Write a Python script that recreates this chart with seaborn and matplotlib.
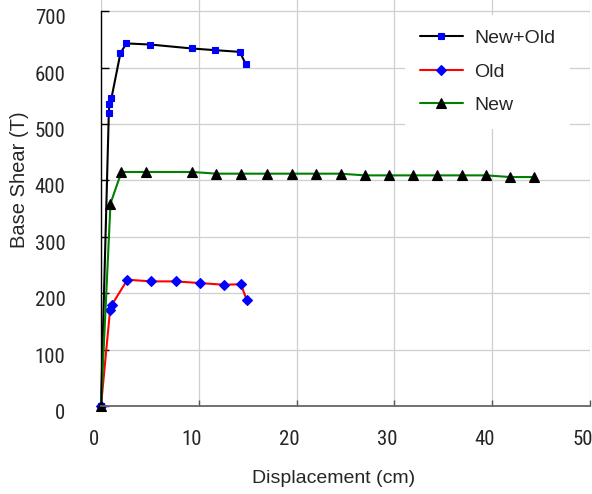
import matplotlib
matplotlib.use("Agg")
import matplotlib.pyplot as plt
import matplotlib.transforms as mtransforms
from matplotlib import font_manager
from matplotlib.font_manager import FontProperties
import seaborn as sns

# ---- data ----
newold_x = [0, 0.80, 0.85, 1.07, 1.99, 2.60, 5.06, 9.31, 11.7, 14.2, 14.8]
newold_y = [0, 520, 535, 546, 626, 643, 641, 634, 631, 628, 606]

old_x = [0, 0.93, 1.13, 2.70, 5.12, 7.65, 10.13, 12.6, 14.3, 14.9]
old_y = [0, 171, 180, 224, 221, 221, 218, 215, 216, 188]

new_x = [0, 0.97, 2.09, 4.58, 9.35, 11.8, 14.3, 17.0, 19.5, 22.0, 24.5,
         26.95, 29.4, 31.95, 34.4, 36.9, 39.4, 41.85, 44.3]
new_y = [0, 359, 415, 415, 415, 412, 412, 412, 412, 412, 412,
         409, 409, 409, 409, 409, 409, 406, 406]

x_ticks = [0, 10, 20, 30, 40, 50]
y_ticks = [0, 100, 200, 300, 400, 500, 600, 700]
x_label = "Displacement (cm)"
y_label = "Base Shear (T)"

sns.set_theme(style="white")


def pick(name, fallback):
    try:
        font_manager.findfont(name, fallback_to_default=False)
        return name
    except Exception:
        return fallback


main_font = pick("Liberation Sans", "DejaVu Sans")

# find a condensed face for the tick labels
narrow_props = None
for fam in ["Liberation Sans Narrow", "Arial Narrow", "Roboto Condensed",
            "Open Sans Condensed", "Nimbus Sans Narrow", "DejaVu Sans Condensed"]:
    try:
        font_manager.findfont(fam, fallback_to_default=False)
        narrow_props = FontProperties(family=fam)
        break
    except Exception:
        pass
if narrow_props is None:
    for fam in ["Liberation Sans", "Roboto", "Open Sans", "Noto Sans", "DejaVu Sans"]:
        fp = FontProperties(family=fam, stretch="condensed")
        try:
            path = font_manager.findfont(fp, fallback_to_default=False)
            if "ondensed" in path or "arrow" in path:
                narrow_props = fp
                break
        except Exception:
            pass
narrow_ok = narrow_props is not None
if narrow_props is None:
    narrow_props = FontProperties(family=main_font)
tick_size = 15 if narrow_ok else 12.5

plt.rcParams["font.family"] = [main_font, "DejaVu Sans"]

fig = plt.figure(figsize=(5.92, 4.94), dpi=100)
ax = fig.add_axes([101 / 592, 88 / 494, 489 / 592, 406 / 494])

common = dict(ax=ax, estimator=None, sort=False, linewidth=1.5,
              markeredgewidth=0.8, clip_on=False)
sns.lineplot(x=old_x, y=old_y, color="red", marker="D", markersize=5.2,
             markerfacecolor="blue", markeredgecolor="blue", label="Old",
             **common)
sns.lineplot(x=newold_x, y=newold_y, color="black", marker="s", markersize=5.0,
             markerfacecolor="blue", markeredgecolor="blue", label="New+Old",
             **common)
sns.lineplot(x=new_x, y=new_y, color="green", marker="^", markersize=6.5,
             markerfacecolor="black", markeredgecolor="black", label="New",
             **common)

ax.set_xlim(0, 50)
ax.set_ylim(0, 720)
ax.set_xticks(x_ticks)
ax.set_yticks(y_ticks)
ax.set_xticklabels([str(v) for v in x_ticks])
ax.set_yticklabels([str(v) for v in y_ticks])

ax.grid(True, color="#cfcfcf", linewidth=0.9)
ax.set_axisbelow(True)

for s in ["top", "right"]:
    ax.spines[s].set_visible(False)
ax.spines["left"].set_color("black")
ax.spines["left"].set_linewidth(1.0)
ax.spines["left"].set_bounds(0, 700)
ax.spines["bottom"].set_color("#666666")
ax.spines["bottom"].set_linewidth(1.3)

ax.tick_params(axis="x", direction="in", length=4, width=1, color="#555555",
               pad=17.5, labelsize=tick_size, bottom=True)
ax.tick_params(axis="y", direction="in", length=6, width=1, color="black",
               pad=25.5, labelsize=tick_size, left=True)

for lab in ax.get_xticklabels():
    lab.set_fontproperties(narrow_props)
    lab.set_fontsize(tick_size)
    lab.set_transform(lab.get_transform() +
                      mtransforms.ScaledTranslation(-0.075, 0, fig.dpi_scale_trans))
for lab in ax.get_yticklabels():
    lab.set_fontproperties(narrow_props)
    lab.set_fontsize(tick_size)
    lab.set_transform(lab.get_transform() +
                      mtransforms.ScaledTranslation(0, -0.055, fig.dpi_scale_trans))

ax.set_xlabel(x_label, fontsize=14, va="center")
ax.set_ylabel(y_label, fontsize=14.5, va="center")
ax.xaxis.set_label_coords(334 / 592, 1 - 478 / 494, transform=fig.transFigure)
ax.yaxis.set_label_coords(20 / 592, 1 - 180 / 494, transform=fig.transFigure)

handles, labels = ax.get_legend_handles_labels()
order = [labels.index(n) for n in ["New+Old", "Old", "New"]]
leg = ax.legend([handles[i] for i in order], [labels[i] for i in order],
                loc="upper left", bbox_to_anchor=(405 / 592, 1 - 15 / 494),
                bbox_transform=fig.transFigure, borderaxespad=0,
                frameon=True, fancybox=False, facecolor="white",
                edgecolor="white", framealpha=1, fontsize=14,
                handlelength=2.25, handletextpad=0.55, labelspacing=0.82,
                borderpad=0.75, numpoints=1)
leg.get_frame().set_linewidth(0)

fig.savefig("out.png", dpi=100)
